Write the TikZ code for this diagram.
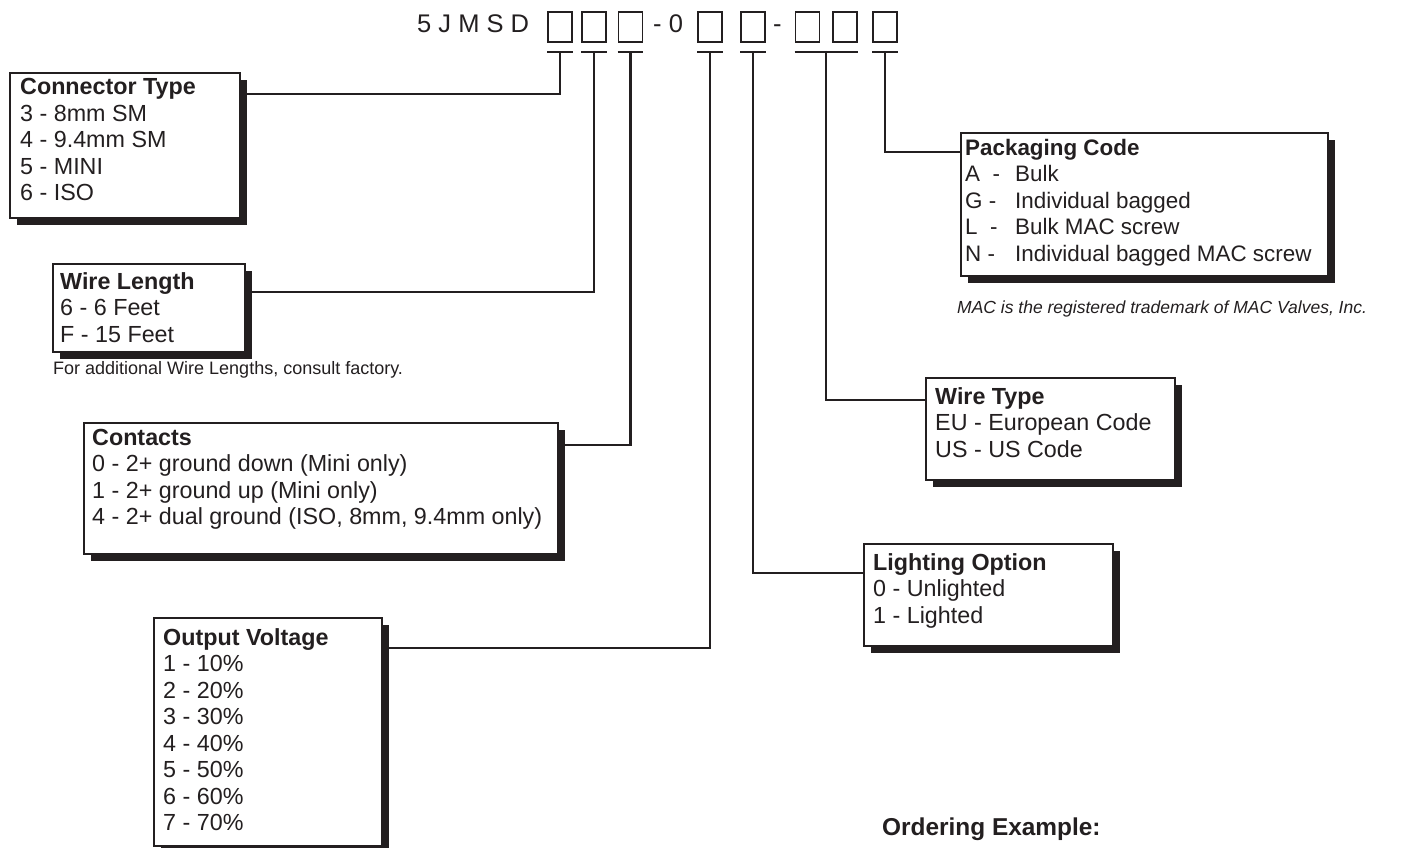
\documentclass[tikz,border=0pt]{standalone}
\usepackage{fontspec}
\setmainfont{Liberation Sans}
\usetikzlibrary{shadows}
\definecolor{ink}{RGB}{35,31,32}
\begin{document}
\begin{tikzpicture}[x=1pt,y=-1pt,
  every node/.style={text=ink},
  infobox/.style={draw=ink, line width=1.8pt, fill=white, inner sep=0pt, anchor=north west,
    drop shadow={shadow xshift=7pt, shadow yshift=-7pt, fill=ink, opacity=1}},
  infotext/.style={anchor=base west, inner sep=0pt, font=\fontsize{23.3}{26.5}\selectfont},
  codebox/.style={draw=ink, line width=1.8pt, minimum width=24pt, minimum height=30pt, inner sep=0pt},
  codetext/.style={anchor=base west, inner sep=0pt, font=\fontsize{25.5}{28}\selectfont},
  conn/.style={draw=ink, line width=2.2pt},
  notetext/.style={anchor=base west, inner sep=0pt}
]
\useasboundingbox (0,0) rectangle (1416,848);
\fill[white] (0,0) rectangle (1416,848);

% part number
\node[codetext] (code) at (417,33) {5 J M S D};
\node[codebox] (b1) at (560,27) {};
\node[codebox] (b2) at (594,27) {};
\node[codebox] (b3) at (630.5,27) {};
\node[codetext] (dash1) at (653,33) {- 0};
\node[codebox] (b4) at (710,27) {};
\node[codebox] (b5) at (753,27) {};
\node[codetext] (dash2) at (773,33) {-};
\node[codebox] (b6) at (807.5,27) {};
\node[codebox] (b7) at (845,27) {};
\node[codebox] (b8) at (885,27) {};

% tee bars
\draw[conn] ([yshift=-9pt]b1.south west) -- ([yshift=-9pt]b1.south east);
\draw[conn] ([yshift=-9pt]b2.south west) -- ([yshift=-9pt]b2.south east);
\draw[conn] ([yshift=-9pt]b3.south west) -- ([yshift=-9pt]b3.south east);
\draw[conn] ([yshift=-9pt]b4.south west) -- ([yshift=-9pt]b4.south east);
\draw[conn] ([yshift=-9pt]b5.south west) -- ([yshift=-9pt]b5.south east);
\draw[conn] ([yshift=-9pt]b6.south west) -- ([yshift=-9pt]b7.south east);
\draw[conn] ([yshift=-9pt]b8.south west) -- ([yshift=-9pt]b8.south east);

% boxes
\node[infobox, minimum width=230pt, minimum height=145pt] (ct) at (9,72) {};
\node[infobox, minimum width=192pt, minimum height=88pt] (wl) at (52,263) {};
\node[infobox, minimum width=474pt, minimum height=131pt] (co) at (83,422) {};
\node[infobox, minimum width=228pt, minimum height=228pt] (ov) at (153,617) {};
\node[infobox, minimum width=367pt, minimum height=143pt] (pc) at (960,132) {};
\node[infobox, minimum width=249pt, minimum height=102pt] (wt) at (925,377) {};
\node[infobox, minimum width=249pt, minimum height=102pt] (lo) at (863,543) {};

% box texts
\node[infotext] (ct-t) at (20,95) {\begin{tabular}[t]{@{}l@{}}\textbf{Connector Type}\\3 - 8mm SM\\4 - 9.4mm SM\\5 - MINI\\6 - ISO\end{tabular}};
\node[infotext] (wl-t) at (60,289) {\begin{tabular}[t]{@{}l@{}}\textbf{Wire Length}\\6 - 6 Feet\\F - 15 Feet\end{tabular}};
\node[infotext] (co-t) at (92,445) {\begin{tabular}[t]{@{}l@{}}\textbf{Contacts}\\0 - 2+ ground down (Mini only)\\1 - 2+ ground up (Mini only)\\4 - 2+ dual ground (ISO, 8mm, 9.4mm only)\end{tabular}};
\node[infotext] (ov-t) at (163,645) {\begin{tabular}[t]{@{}l@{}}\textbf{Output Voltage}\\1 - 10\%\\2 - 20\%\\3 - 30\%\\4 - 40\%\\5 - 50\%\\6 - 60\%\\7 - 70\%\end{tabular}};
\node[infotext, font=\fontsize{22.4}{26.5}\selectfont] (pc-t) at (965,155) {\begin{tabular}[t]{@{}l@{}}\textbf{Packaging Code}\\\makebox[50pt][l]{A\ \ -}Bulk\\\makebox[50pt][l]{G -}Individual bagged\\\makebox[50pt][l]{L\ \ -}Bulk MAC screw\\\makebox[50pt][l]{N -}Individual bagged MAC screw\end{tabular}};
\node[infotext] (wt-t) at (935,404) {\begin{tabular}[t]{@{}l@{}}\textbf{Wire Type}\\EU - European Code\\US - US Code\end{tabular}};
\node[infotext] (lo-t) at (873,570) {\begin{tabular}[t]{@{}l@{}}\textbf{Lighting Option}\\0 - Unlighted\\1 - Lighted\end{tabular}};

% notes
\node[notetext, font=\fontsize{18}{20}\selectfont] (note1) at (53,374) {For additional Wire Lengths, consult factory.};
\node[notetext, font=\itshape\fontsize{17.5}{20}\selectfont] (note2) at (957,313) {MAC is the registered trademark of MAC Valves, Inc.};
\node[notetext, font=\bfseries\fontsize{24.4}{28}\selectfont] (ord) at (882,835) {Ordering Example:};

% junction corners
\coordinate (j1) at (560,94);
\coordinate (j2) at (594,292);
\coordinate (j3) at (630.5,445);
\coordinate (j4) at (710,648);
\coordinate (j5) at (753,573);
\coordinate (m67) at (826.25,51);
\coordinate (j6) at (826.25,400);
\coordinate (j7) at (885,152);

% connectors
\draw[conn] ([yshift=-9pt]b1.south) -- (j1) -- (ct.east |- j1);
\draw[conn] ([yshift=-9pt]b2.south) -- (j2) -- (wl.east |- j2);
\draw[conn] ([yshift=-9pt]b3.south) -- (j3) -- (co.east |- j3);
\draw[conn] ([yshift=-9pt]b4.south) -- (j4) -- (ov.east |- j4);
\draw[conn] ([yshift=-9pt]b5.south) -- (j5) -- (lo.west |- j5);
\draw[conn] (m67) -- (j6) -- (wt.west |- j6);
\draw[conn] ([yshift=-9pt]b8.south) -- (j7) -- (pc.west |- j7);
\end{tikzpicture}
\end{document}
